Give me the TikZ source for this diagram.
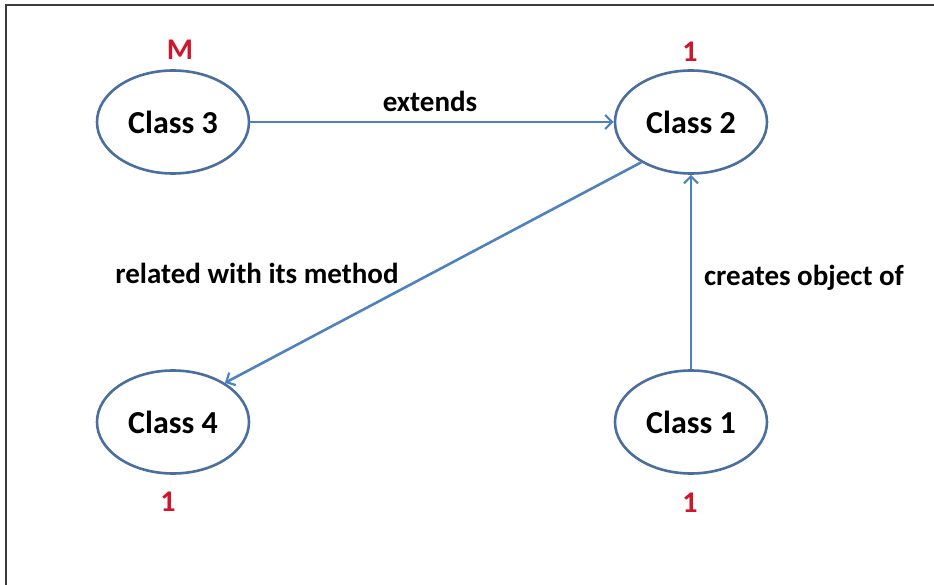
\documentclass[tikz,border=0pt]{standalone}
\usepackage{fontspec}
\setmainfont{Carlito}
\usetikzlibrary{shapes.geometric,arrows.meta}
\definecolor{linkblue}{RGB}{79,129,189}
\definecolor{rimblue}{RGB}{74,110,158}
\definecolor{multred}{RGB}{208,22,44}
\definecolor{framegray}{RGB}{60,60,60}
\begin{document}
\begin{tikzpicture}[x=1pt,y=-1pt,
  classnode/.style={ellipse,draw=rimblue,line width=2.6pt,fill=white,
    minimum width=152pt,minimum height=103pt,inner sep=0pt,
    font=\fontsize{32}{36}\selectfont\bfseries},
  multnode/.style={text=multred,font=\fontsize{30}{34}\selectfont\bfseries},
  edgelabel/.style={font=\fontsize{29}{33}\selectfont\bfseries},
  link/.style={draw=linkblue,line width=2.6pt,
    -{Straight Barb[length=7pt,width=14pt,line width=2.2pt]}}]
  \useasboundingbox (0,0) rectangle (934,585);
  % outer frame (top and left edges)
  \draw[framegray,line width=1.6pt] (6,585) -- (6,5) -- (934,5);

  \node[classnode] (c3) at (173,122) {Class 3};
  \node[classnode] (c2) at (691,122) {Class 2};
  \node[classnode] (c4) at (173,422) {Class 4};
  \node[classnode] (c1) at (691,422) {Class 1};

  \node[multnode] (m3) at (180,50) {M};
  \node[multnode] (m2) at (690,52) {1};
  \node[multnode] (m4) at (168,502) {1};
  \node[multnode] (m1) at (690,503) {1};

  \draw[link] (c3.east) -- (c2.west);
  \draw[link] (c2.-141) -- (c4.37);
  \draw[link] (c1.north) -- (c2.south);

  \node[edgelabel] (l32) at (430,101) {extends};
  \node[edgelabel] (l24) at (257,273) {related with its method};
  \node[edgelabel] (l12) at (804,278) {creates object of};
\end{tikzpicture}
\end{document}
